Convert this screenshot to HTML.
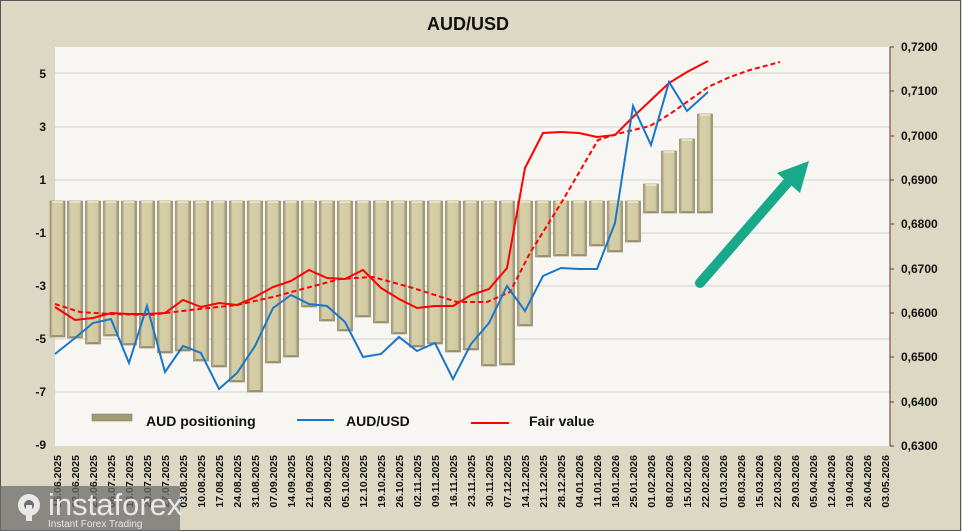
<!DOCTYPE html>
<html><head><meta charset="utf-8"><style>
html,body{margin:0;padding:0;background:#ddd8c3;}
svg{display:block;font-family:"Liberation Sans",Arial,sans-serif;}
</style></head><body>
<svg width="962" height="531" viewBox="0 0 962 531" xmlns="http://www.w3.org/2000/svg">
<defs>
<linearGradient id="bg" x1="0" x2="1" y1="0" y2="0">
<stop offset="0" stop-color="#9a9270"/><stop offset="0.2" stop-color="#d6cfa8"/><stop offset="0.8" stop-color="#d2caa2"/><stop offset="1" stop-color="#8c8462"/>
</linearGradient>
</defs>
<rect x="0" y="0" width="962" height="531" fill="#ddd8c3"/>
<rect x="0.5" y="0.5" width="960" height="530" fill="none" stroke="#555" stroke-width="1"/>
<text x="468" y="30" font-size="18" font-weight="bold" text-anchor="middle" fill="#111">AUD/USD</text>
<rect x="55" y="47" width="835" height="399" fill="#f7f6f2"/>
<g stroke="#d4d2cc" stroke-width="1">
<line x1="55" x2="890" y1="73" y2="73"/><line x1="55" x2="890" y1="127" y2="127"/><line x1="55" x2="890" y1="180" y2="180"/><line x1="55" x2="890" y1="233" y2="233"/><line x1="55" x2="890" y1="286" y2="286"/><line x1="55" x2="890" y1="339" y2="339"/><line x1="55" x2="890" y1="392" y2="392"/>
</g>
<g font-size="12" font-weight="bold" text-anchor="end" fill="#111">
<text x="46" y="78">5</text><text x="46" y="131">3</text><text x="46" y="184">1</text><text x="46" y="237">-1</text><text x="46" y="290">-3</text><text x="46" y="343">-5</text><text x="46" y="396">-7</text><text x="46" y="449">-9</text>
</g>
<line x1="890" y1="47" x2="890" y2="446" stroke="#7a2a2a" stroke-width="1"/>
<g stroke="#7a2a2a" stroke-width="1">
<line x1="890" x2="894" y1="47" y2="47"/><line x1="890" x2="894" y1="91" y2="91"/><line x1="890" x2="894" y1="136" y2="136"/><line x1="890" x2="894" y1="180" y2="180"/><line x1="890" x2="894" y1="224" y2="224"/><line x1="890" x2="894" y1="269" y2="269"/><line x1="890" x2="894" y1="313" y2="313"/><line x1="890" x2="894" y1="357" y2="357"/><line x1="890" x2="894" y1="402" y2="402"/><line x1="890" x2="894" y1="446" y2="446"/>
</g>
<g font-size="12" font-weight="bold" fill="#111">
<text x="901" y="51">0,7200</text><text x="901" y="95">0,7100</text><text x="901" y="140">0,7000</text><text x="901" y="184">0,6900</text><text x="901" y="228">0,6800</text><text x="901" y="273">0,6700</text><text x="901" y="317">0,6600</text><text x="901" y="361">0,6500</text><text x="901" y="406">0,6400</text><text x="901" y="450">0,6300</text>
</g>
<g fill="url(#bg)" stroke="#8a8262" stroke-width="0.6">
<rect x="50" y="201" width="15" height="136"/>
<rect x="67.5" y="201" width="15" height="137"/>
<rect x="85.5" y="201" width="15" height="143"/>
<rect x="103.5" y="201" width="15" height="135"/>
<rect x="121.5" y="201" width="15" height="144"/>
<rect x="139.5" y="201" width="15" height="147"/>
<rect x="157.5" y="201" width="15" height="152"/>
<rect x="175.5" y="201" width="15" height="150"/>
<rect x="193.5" y="201" width="15" height="160"/>
<rect x="211.5" y="201" width="15" height="166"/>
<rect x="229.5" y="201" width="15" height="181"/>
<rect x="247.5" y="201" width="15" height="191"/>
<rect x="265.5" y="201" width="15" height="162"/>
<rect x="283.5" y="201" width="15" height="156"/>
<rect x="301.5" y="201" width="15" height="106"/>
<rect x="319.5" y="201" width="15" height="120"/>
<rect x="337.5" y="201" width="15" height="130"/>
<rect x="355.5" y="201" width="15" height="116"/>
<rect x="373.5" y="201" width="15" height="122"/>
<rect x="391.5" y="201" width="15" height="133"/>
<rect x="409.5" y="201" width="15" height="146"/>
<rect x="427.5" y="201" width="15" height="143"/>
<rect x="445.5" y="201" width="15" height="151"/>
<rect x="463.5" y="201" width="15" height="149"/>
<rect x="481.5" y="201" width="15" height="165"/>
<rect x="499.5" y="201" width="15" height="164"/>
<rect x="517.5" y="201" width="15" height="125"/>
<rect x="535.5" y="201" width="15" height="56"/>
<rect x="553.5" y="201" width="15" height="55"/>
<rect x="571.5" y="201" width="15" height="55"/>
<rect x="589.5" y="201" width="15" height="45"/>
<rect x="607.5" y="201" width="15" height="51"/>
<rect x="625.5" y="201" width="15" height="41"/>
<rect x="643.5" y="184" width="15" height="29"/>
<rect x="661.5" y="151" width="15" height="62"/>
<rect x="679.5" y="139" width="15" height="74"/>
<rect x="697.5" y="114" width="15" height="99"/>
</g>
<g fill="#efe8c4" opacity="0.8">
<rect x="52" y="201" width="11" height="2"/><rect x="69.5" y="201" width="11" height="2"/><rect x="87.5" y="201" width="11" height="2"/><rect x="105.5" y="201" width="11" height="2"/><rect x="123.5" y="201" width="11" height="2"/><rect x="141.5" y="201" width="11" height="2"/><rect x="159.5" y="201" width="11" height="2"/><rect x="177.5" y="201" width="11" height="2"/><rect x="195.5" y="201" width="11" height="2"/><rect x="213.5" y="201" width="11" height="2"/><rect x="231.5" y="201" width="11" height="2"/><rect x="249.5" y="201" width="11" height="2"/><rect x="267.5" y="201" width="11" height="2"/><rect x="285.5" y="201" width="11" height="2"/><rect x="303.5" y="201" width="11" height="2"/><rect x="321.5" y="201" width="11" height="2"/><rect x="339.5" y="201" width="11" height="2"/><rect x="357.5" y="201" width="11" height="2"/><rect x="375.5" y="201" width="11" height="2"/><rect x="393.5" y="201" width="11" height="2"/><rect x="411.5" y="201" width="11" height="2"/><rect x="429.5" y="201" width="11" height="2"/><rect x="447.5" y="201" width="11" height="2"/><rect x="465.5" y="201" width="11" height="2"/><rect x="483.5" y="201" width="11" height="2"/><rect x="501.5" y="201" width="11" height="2"/><rect x="519.5" y="201" width="11" height="2"/><rect x="537.5" y="201" width="11" height="2"/><rect x="555.5" y="201" width="11" height="2"/><rect x="573.5" y="201" width="11" height="2"/><rect x="591.5" y="201" width="11" height="2"/><rect x="609.5" y="201" width="11" height="2"/><rect x="627.5" y="201" width="11" height="2"/><rect x="645.5" y="184" width="11" height="2"/><rect x="663.5" y="151" width="11" height="2"/><rect x="681.5" y="139" width="11" height="2"/><rect x="699.5" y="114" width="11" height="2"/>
</g>
<g fill="#858060" opacity="0.7">
<rect x="52" y="335" width="11" height="2"/><rect x="69.5" y="336" width="11" height="2"/><rect x="87.5" y="342" width="11" height="2"/><rect x="105.5" y="334" width="11" height="2"/><rect x="123.5" y="343" width="11" height="2"/><rect x="141.5" y="346" width="11" height="2"/><rect x="159.5" y="351" width="11" height="2"/><rect x="177.5" y="349" width="11" height="2"/><rect x="195.5" y="359" width="11" height="2"/><rect x="213.5" y="365" width="11" height="2"/><rect x="231.5" y="380" width="11" height="2"/><rect x="249.5" y="390" width="11" height="2"/><rect x="267.5" y="361" width="11" height="2"/><rect x="285.5" y="355" width="11" height="2"/><rect x="303.5" y="305" width="11" height="2"/><rect x="321.5" y="319" width="11" height="2"/><rect x="339.5" y="329" width="11" height="2"/><rect x="357.5" y="315" width="11" height="2"/><rect x="375.5" y="321" width="11" height="2"/><rect x="393.5" y="332" width="11" height="2"/><rect x="411.5" y="345" width="11" height="2"/><rect x="429.5" y="342" width="11" height="2"/><rect x="447.5" y="350" width="11" height="2"/><rect x="465.5" y="348" width="11" height="2"/><rect x="483.5" y="364" width="11" height="2"/><rect x="501.5" y="363" width="11" height="2"/><rect x="519.5" y="324" width="11" height="2"/><rect x="537.5" y="255" width="11" height="2"/><rect x="555.5" y="254" width="11" height="2"/><rect x="573.5" y="254" width="11" height="2"/><rect x="591.5" y="244" width="11" height="2"/><rect x="609.5" y="250" width="11" height="2"/><rect x="627.5" y="240" width="11" height="2"/><rect x="645.5" y="211" width="11" height="2"/><rect x="663.5" y="211" width="11" height="2"/><rect x="681.5" y="211" width="11" height="2"/><rect x="699.5" y="211" width="11" height="2"/>
</g>
<polyline fill="none" stroke="#f00" stroke-width="2" stroke-dasharray="5,3" points="55,304 80,312 110,314 150,315 190,310 237,305 273,297 310,287 340,279 373,277 413,288 457,302 487,302 510,292 530,253 563,200 598,140 617,134 650,126 670,114 708,87 730,77 750,70 780,62"/>
<polyline fill="none" stroke="#f00" stroke-width="2" points="55,307 75,320 93,318 111,313 129,314 147,314 165,313 183,300 201,307 219,303 237,305 255,297 273,287 291,281 309,270 327,278 345,279 363,270 381,288 399,299 417,308 435,306 453,306 471,295 489,289 507,268 525,168 543,133 561,132 579,133 597,137 615,135 633,117 651,100 669,83 687,72 708,61"/>
<polyline fill="none" stroke="#1a76c8" stroke-width="2" points="55,354 75,338 93,323 111,319 129,363 147,306 165,372 183,346 201,353 219,389 237,373 255,346 273,308 291,295 309,304 327,306 345,322 363,357 381,354 399,337 417,351 435,343 453,379 471,344 489,323 507,286 525,311 543,276 561,268 579,269 597,269 615,223 633,106 651,145 669,82 687,111 708,92"/>
<line x1="700" y1="283" x2="788" y2="182" stroke="#17a98a" stroke-width="10" stroke-linecap="round"/>
<polygon points="809,161 777,173 800,193" fill="#17a98a"/>
<rect x="92" y="414" width="40" height="7" fill="#a39b70" stroke="#7f7856" stroke-width="0.5"/>
<line x1="297" x2="334" y1="420" y2="420" stroke="#1a76c8" stroke-width="2"/>
<line x1="471" x2="509" y1="423" y2="423" stroke="#f00" stroke-width="2"/>
<g font-size="14" font-weight="bold" fill="#111">
<text x="146" y="426">AUD positioning</text><text x="346" y="426">AUD/USD</text><text x="529" y="426">Fair value</text>
</g>
<g font-size="10.5" font-weight="bold" fill="#111">
<text transform="translate(61,455) rotate(-90)" text-anchor="end">15.06.2025</text>
<text transform="translate(79,455) rotate(-90)" text-anchor="end">22.06.2025</text>
<text transform="translate(97,455) rotate(-90)" text-anchor="end">29.06.2025</text>
<text transform="translate(115,455) rotate(-90)" text-anchor="end">06.07.2025</text>
<text transform="translate(133,455) rotate(-90)" text-anchor="end">13.07.2025</text>
<text transform="translate(151,455) rotate(-90)" text-anchor="end">20.07.2025</text>
<text transform="translate(169,455) rotate(-90)" text-anchor="end">27.07.2025</text>
<text transform="translate(187,455) rotate(-90)" text-anchor="end">03.08.2025</text>
<text transform="translate(205,455) rotate(-90)" text-anchor="end">10.08.2025</text>
<text transform="translate(223,455) rotate(-90)" text-anchor="end">17.08.2025</text>
<text transform="translate(241,455) rotate(-90)" text-anchor="end">24.08.2025</text>
<text transform="translate(259,455) rotate(-90)" text-anchor="end">31.08.2025</text>
<text transform="translate(277,455) rotate(-90)" text-anchor="end">07.09.2025</text>
<text transform="translate(295,455) rotate(-90)" text-anchor="end">14.09.2025</text>
<text transform="translate(313,455) rotate(-90)" text-anchor="end">21.09.2025</text>
<text transform="translate(331,455) rotate(-90)" text-anchor="end">28.09.2025</text>
<text transform="translate(349,455) rotate(-90)" text-anchor="end">05.10.2025</text>
<text transform="translate(367,455) rotate(-90)" text-anchor="end">12.10.2025</text>
<text transform="translate(385,455) rotate(-90)" text-anchor="end">19.10.2025</text>
<text transform="translate(403,455) rotate(-90)" text-anchor="end">26.10.2025</text>
<text transform="translate(421,455) rotate(-90)" text-anchor="end">02.11.2025</text>
<text transform="translate(439,455) rotate(-90)" text-anchor="end">09.11.2025</text>
<text transform="translate(457,455) rotate(-90)" text-anchor="end">16.11.2025</text>
<text transform="translate(475,455) rotate(-90)" text-anchor="end">23.11.2025</text>
<text transform="translate(493,455) rotate(-90)" text-anchor="end">30.11.2025</text>
<text transform="translate(511,455) rotate(-90)" text-anchor="end">07.12.2025</text>
<text transform="translate(529,455) rotate(-90)" text-anchor="end">14.12.2025</text>
<text transform="translate(547,455) rotate(-90)" text-anchor="end">21.12.2025</text>
<text transform="translate(565,455) rotate(-90)" text-anchor="end">28.12.2025</text>
<text transform="translate(583,455) rotate(-90)" text-anchor="end">04.01.2026</text>
<text transform="translate(601,455) rotate(-90)" text-anchor="end">11.01.2026</text>
<text transform="translate(619,455) rotate(-90)" text-anchor="end">18.01.2026</text>
<text transform="translate(637,455) rotate(-90)" text-anchor="end">25.01.2026</text>
<text transform="translate(655,455) rotate(-90)" text-anchor="end">01.02.2026</text>
<text transform="translate(673,455) rotate(-90)" text-anchor="end">08.02.2026</text>
<text transform="translate(691,455) rotate(-90)" text-anchor="end">15.02.2026</text>
<text transform="translate(709,455) rotate(-90)" text-anchor="end">22.02.2026</text>
<text transform="translate(727,455) rotate(-90)" text-anchor="end">01.03.2026</text>
<text transform="translate(745,455) rotate(-90)" text-anchor="end">08.03.2026</text>
<text transform="translate(763,455) rotate(-90)" text-anchor="end">15.03.2026</text>
<text transform="translate(781,455) rotate(-90)" text-anchor="end">22.03.2026</text>
<text transform="translate(799,455) rotate(-90)" text-anchor="end">29.03.2026</text>
<text transform="translate(817,455) rotate(-90)" text-anchor="end">05.04.2026</text>
<text transform="translate(835,455) rotate(-90)" text-anchor="end">12.04.2026</text>
<text transform="translate(853,455) rotate(-90)" text-anchor="end">19.04.2026</text>
<text transform="translate(871,455) rotate(-90)" text-anchor="end">26.04.2026</text>
<text transform="translate(889,455) rotate(-90)" text-anchor="end">03.05.2026</text>
</g>
<g>
<rect x="0" y="486" width="180" height="45" fill="#6e6e6e" fill-opacity="0.75"/>
<circle cx="29" cy="505" r="11" fill="#e8e8e8"/>
<circle cx="29" cy="505" r="5" fill="#6e6e6e"/>
<rect x="26" y="505" width="6" height="16" fill="#e8e8e8"/>
<text x="48" y="515" font-size="31" fill="#e8e8e8">instaforex</text>
<text x="48" y="527" font-size="10" fill="#e8e8e8">Instant Forex Trading</text>
</g>
</svg>
</body></html>
